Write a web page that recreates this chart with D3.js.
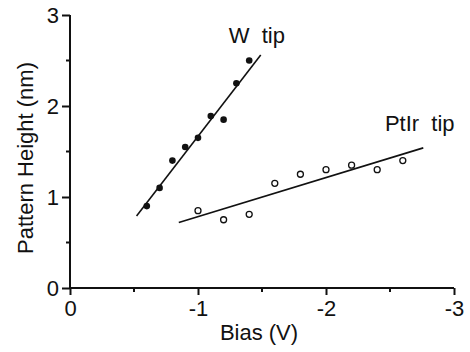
<!DOCTYPE html>
<html>
<head>
<meta charset="utf-8">
<script src="https://cdn.jsdelivr.net/npm/d3@7"></script>
<style>
  html, body { margin: 0; padding: 0; background: #fff; }
  text { font-family: Arial, "Liberation Sans", sans-serif; fill: #111; }
</style>
</head>
<body>
<div id="chart"></div>
<script>
// W tip (filled dots)
const wBias = [-0.6, -0.7, -0.8, -0.9, -1.0, -1.1, -1.2, -1.3, -1.4];
const wHeight = [0.9, 1.1, 1.4, 1.55, 1.65, 1.89, 1.85, 2.25, 2.5];
const wFitBias = [-0.52, -1.49];
const wFitHeight = [0.79, 2.56];

// PtIr tip (open circles)
const ptBias = [-1.0, -1.2, -1.4, -1.6, -1.8, -2.0, -2.2, -2.4, -2.6];
const ptHeight = [0.85, 0.75, 0.81, 1.15, 1.25, 1.3, 1.35, 1.3, 1.4];
const ptFitBias = [-0.85, -2.76];
const ptFitHeight = [0.72, 1.54];

const xTicks = [0, -1, -2, -3];
const xMinor = [-0.5, -1.5, -2.5];
const yTicks = [0, 1, 2, 3];
const yMinor = [0.5, 1.5, 2.5];

const width = 470, height = 352;
const fontSize = "22px";
const svg = d3.select("#chart").append("svg")
  .attr("width", width)
  .attr("height", height);

const x = d3.scaleLinear().domain([0, -3]).range([70, 454]);
const y = d3.scaleLinear().domain([0, 3]).range([288, 15]);

// Axes
const xAxis = svg.append("g")
  .attr("transform", `translate(0,${y(0)})`)
  .call(d3.axisBottom(x).tickValues(xTicks).tickSize(7).tickPadding(5)
    .tickFormat(d => String(d)));
xAxis.selectAll(".tick line").attr("stroke", "#111").attr("stroke-width", 2);
xAxis.select(".domain").attr("d", `M${x(0)},0H${x(-3)}`).attr("stroke", "#111").attr("stroke-width", 2);
xAxis.selectAll("text").style("font-size", fontSize).attr("fill", "#111");
xAxis.selectAll(".minor")
  .data(xMinor).enter().append("line")
  .attr("x1", d => x(d)).attr("x2", d => x(d))
  .attr("y1", 0).attr("y2", 4)
  .attr("stroke", "#111").attr("stroke-width", 2);

const yAxis = svg.append("g")
  .attr("transform", `translate(${x(0)},0)`)
  .call(d3.axisLeft(y).tickValues(yTicks).tickSize(8).tickPadding(3).tickFormat(d3.format("d")));
yAxis.selectAll(".tick line").attr("stroke", "#111").attr("stroke-width", 2);
yAxis.select(".domain").attr("d", `M0,${y(0)}V${y(3)}`).attr("stroke", "#111").attr("stroke-width", 2);
yAxis.selectAll("text").style("font-size", fontSize).attr("fill", "#111");
yAxis.selectAll(".minor")
  .data(yMinor).enter().append("line")
  .attr("x1", -4).attr("x2", 0)
  .attr("y1", d => y(d)).attr("y2", d => y(d))
  .attr("stroke", "#111").attr("stroke-width", 2);

// Axis titles
svg.append("text")
  .attr("x", 259).attr("y", 340)
  .attr("text-anchor", "middle")
  .style("font-size", fontSize)
  .text("Bias (V)");

svg.append("text")
  .attr("transform", "translate(33,158) rotate(-90)")
  .attr("text-anchor", "middle")
  .style("font-size", fontSize)
  .text("Pattern Height (nm)");

// Fit lines
const line = d3.line().x(d => x(d[0])).y(d => y(d[1]));
svg.append("path")
  .datum(d3.zip(wFitBias, wFitHeight))
  .attr("d", line)
  .attr("fill", "none").attr("stroke", "#111").attr("stroke-width", 1.6);
svg.append("path")
  .datum(d3.zip(ptFitBias, ptFitHeight))
  .attr("d", line)
  .attr("fill", "none").attr("stroke", "#111").attr("stroke-width", 1.6);

// Points
svg.selectAll(".w-dot")
  .data(d3.zip(wBias, wHeight)).enter().append("circle")
  .attr("class", "w-dot")
  .attr("cx", d => x(d[0])).attr("cy", d => y(d[1]))
  .attr("r", 3.3)
  .attr("fill", "#111");

svg.selectAll(".pt-dot")
  .data(d3.zip(ptBias, ptHeight)).enter().append("circle")
  .attr("class", "pt-dot")
  .attr("cx", d => x(d[0])).attr("cy", d => y(d[1]))
  .attr("r", 3)
  .attr("fill", "#fff")
  .attr("stroke", "#111").attr("stroke-width", 1.3);

// Series labels
svg.append("text")
  .attr("x", x(-1.24)).attr("y", y(2.69))
  .attr("xml:space", "preserve")
  .style("white-space", "pre")
  .style("font-size", fontSize)
  .text("W  tip");

svg.append("text")
  .attr("x", x(-2.46)).attr("y", y(1.725))
  .attr("xml:space", "preserve")
  .style("white-space", "pre")
  .style("font-size", fontSize)
  .text("PtIr  tip");
</script>
</body>
</html>
